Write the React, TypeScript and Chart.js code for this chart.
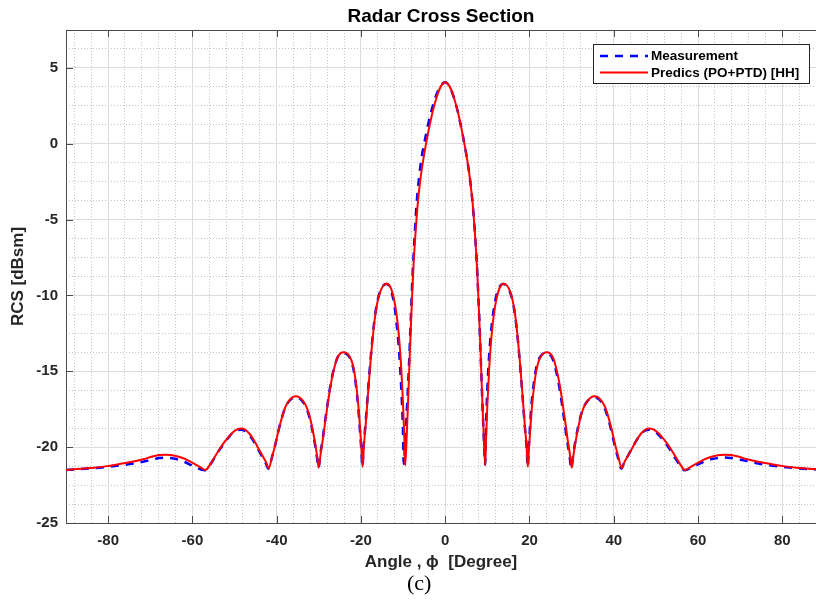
import React, { useEffect, useRef } from "react";
import { Chart, registerables } from "chart.js";

Chart.register(...registerables);

const chartTitle = "Radar Cross Section";
const xTitle = "Angle , \u03D5  [Degree]";
const yTitle = "RCS [dBsm]";
const caption = "(c)";

const xMajorTicks = [-80, -60, -40, -20, 0, 20, 40, 60, 80];
const xMinorTicks = [-88, -84, -76, -72, -68, -64, -56, -52, -48, -44, -36, -32, -28, -24, -16, -12, -8, -4, 4, 8, 12, 16, 24, 28, 32, 36, 44, 48, 52, 56, 64, 68, 72, 76, 84, 88];
const yMajorTicks = [-25, -20, -15, -10, -5, 0, 5];
const yMinorTicks = [-23.75, -22.5, -21.25, -18.75, -17.5, -16.25, -13.75, -12.5, -11.25, -8.75, -7.5, -6.25, -3.75, -2.5, -1.25, 1.25, 2.5, 3.75, 6.25];

const measLabel = "Measurement";
const measAngles = [
  -90, -88, -84, -80.2, -77, -74, -71.5, -69.5, -67.8, -66.2, -64.8, -63.3, -61.8, -60.4, -59.1, -58, -57, -55.9, -54.8, -53.7,
  -52.6, -51.6, -50.6, -49.5, -48.5, -47.5, -46.5, -45.6, -44.6, -43.6, -42.6, -41.95, -41.15, -40.35, -39.65, -38.85, -38.05, -37.15, -36.25, -35.45,
  -34.75, -33.95, -33.05, -32.25, -31.55, -30.95, -30.45, -30.1, -29.55, -29.05, -28.55, -27.95, -27.35, -26.65, -25.65, -24.85, -24.15, -23.55, -22.85, -22.15,
  -21.55, -21.05, -20.65, -20.25, -19.9, -19.65, -19.35, -18.95, -18.35, -17.75, -17.15, -16.55, -15.95, -15.25, -14.55, -13.9, -13.3, -12.75, -12.1, -11.55,
  -11.05, -10.65, -10.25, -10, -9.85, -9.4, -9, -8.6, -8.2, -7.8, -7.3, -6.8, -6.2, -5.6, -5, -4, -3, -2, -1, 0,
  1, 2, 3, 3.4, 4, 5, 5.6, 6, 6.5, 7, 7.5, 7.85, 8.2, 8.5, 8.8, 9.1, 9.5, 9.62, 9.85, 10.2,
  10.6, 11.1, 11.7, 12.4, 13.1, 13.7, 14.45, 15.2, 15.9, 16.5, 17.1, 17.7, 18.3, 18.9, 19.3, 19.6, 19.8, 20.1, 20.45, 20.85,
  21.35, 21.95, 22.65, 23.35, 23.95, 24.65, 25.45, 26.45, 27.15, 27.75, 28.35, 28.85, 29.4, 29.95, 30.3, 30.8, 31.4, 32.1, 32.9, 33.8,
  34.6, 35.3, 36.1, 37, 37.9, 38.7, 39.5, 40.2, 41, 41.8, 42.4, 43.4, 44.4, 45.4, 46.4, 47.4, 48.3, 49.3, 50.4, 51.4,
  52.4, 53.4, 54.5, 55.6, 56.8, 57.9, 59.1, 60.4, 61.9, 63.6, 65.1, 66.5, 67.9, 69.6, 71.6, 74, 77, 80.2, 84, 88,
  90,
];
const measRcs = [
  -21.5, -21.47, -21.4, -21.3, -21.2, -21.08, -20.95, -20.82, -20.72, -20.7, -20.73, -20.82, -20.98, -21.17, -21.35, -21.47, -21.52, -21.2, -20.72, -20.22,
  -19.8, -19.42, -19.1, -18.9, -18.85, -18.93, -19.18, -19.55, -20.05, -20.55, -21.05, -21.42, -20.7, -19.85, -19.0, -18.15, -17.45, -17.0, -16.75, -16.7,
  -16.75, -16.95, -17.35, -18.0, -18.85, -19.75, -20.65, -21.38, -20.3, -19.4, -18.35, -17.2, -16.1, -15.1, -14.15, -13.85, -13.8, -13.83, -14.02, -14.45,
  -15.2, -16.25, -17.35, -18.85, -20.2, -21.3, -19.9, -18.6, -16.4, -14.3, -12.5, -11.1, -10.2, -9.6, -9.3, -9.25, -9.38, -9.75, -10.6, -11.8,
  -13.3, -15.0, -17.2, -19.2, -21.1, -19.2, -17.0, -14.6, -11.8, -9.0, -6.3, -4.0, -2.2, -0.9, 0.0, 1.35, 2.45, 3.3, 3.85, 4.05,
  3.8, 3.1, 2.1, 1.6, 0.8, -0.7, -1.75, -2.6, -3.9, -5.7, -7.9, -10.0, -12.3, -14.6, -16.9, -19.0, -21.15, -19.4, -17.2, -15.0,
  -13.3, -11.8, -10.6, -9.75, -9.35, -9.25, -9.33, -9.65, -10.25, -11.15, -12.55, -14.35, -16.45, -18.65, -19.95, -21.3, -20.2, -18.8, -17.3, -16.2,
  -15.15, -14.4, -14.0, -13.82, -13.8, -13.85, -14.15, -15.15, -16.15, -17.25, -18.4, -19.45, -20.35, -21.38, -20.65, -19.75, -18.85, -18.0, -17.35, -16.95,
  -16.75, -16.7, -16.75, -17.0, -17.45, -18.15, -19.0, -19.85, -20.7, -21.42, -21.05, -20.55, -20.05, -19.55, -19.15, -18.92, -18.85, -18.9, -19.12, -19.42,
  -19.78, -20.18, -20.68, -21.15, -21.52, -21.42, -21.25, -21.08, -20.9, -20.77, -20.7, -20.68, -20.72, -20.8, -20.92, -21.07, -21.2, -21.3, -21.4, -21.47,
  -21.5,
];

const predLabel = "Predics (PO+PTD) [HH]";
const predAngles = [
  -90, -88, -84, -80.2, -77, -74, -71.5, -69.5, -67.8, -66.4, -65.2, -63.7, -62, -60.5, -59.2, -58, -56.9, -55.7, -54.6, -53.5,
  -52.5, -51.5, -50.5, -49.4, -48.4, -47.5, -46.5, -45.5, -44.5, -43.5, -42.5, -41.9, -41.1, -40.3, -39.6, -38.8, -38, -37.1, -36.2, -35.4,
  -34.7, -33.9, -33, -32.2, -31.5, -30.9, -30.4, -30.05, -29.5, -29, -28.5, -27.9, -27.3, -26.6, -25.6, -24.8, -24.1, -23.5, -22.8, -22.1,
  -21.5, -21, -20.6, -20.2, -19.85, -19.6, -19.3, -18.9, -18.3, -17.7, -17.1, -16.5, -15.9, -15.2, -14.5, -13.8, -13.2, -12.6, -11.9, -11.3,
  -10.8, -10.4, -10, -9.7, -9.5, -9.1, -8.8, -8.5, -8.2, -7.85, -7.5, -7, -6.5, -6, -5.6, -5, -4, -3.4, -3, -2,
  -1, 0, 1, 2, 3, 3.4, 4, 5, 5.6, 6, 6.5, 7, 7.5, 7.85, 8.2, 8.5, 8.8, 9.1, 9.5, 9.7,
  10, 10.4, 10.8, 11.3, 11.9, 12.6, 13.2, 13.8, 14.5, 15.2, 15.9, 16.5, 17.1, 17.7, 18.3, 18.9, 19.3, 19.6, 19.85, 20.2,
  20.6, 21, 21.5, 22.1, 22.8, 23.5, 24.1, 24.8, 25.6, 26.6, 27.3, 27.9, 28.5, 29, 29.5, 30.05, 30.4, 30.9, 31.5, 32.2,
  33, 33.9, 34.7, 35.4, 36.2, 37.1, 38, 38.8, 39.6, 40.3, 41.1, 41.9, 42.5, 43.5, 44.5, 45.5, 46.5, 47.5, 48.4, 49.4,
  50.5, 51.5, 52.5, 53.5, 54.6, 55.7, 56.9, 58, 59.2, 60.5, 62, 63.7, 65.2, 66.4, 67.8, 69.5, 71.5, 74, 77, 80.2,
  84, 88, 90,
];
const predRcs = [
  -21.5, -21.45, -21.37, -21.25, -21.1, -20.95, -20.78, -20.62, -20.52, -20.5, -20.52, -20.6, -20.75, -20.95, -21.15, -21.35, -21.5, -21.1, -20.6, -20.1,
  -19.7, -19.35, -19.05, -18.83, -18.77, -18.85, -19.1, -19.5, -20.0, -20.5, -21.0, -21.4, -20.65, -19.8, -18.95, -18.1, -17.4, -16.95, -16.7, -16.65,
  -16.7, -16.9, -17.3, -17.95, -18.8, -19.7, -20.6, -21.35, -20.3, -19.4, -18.35, -17.2, -16.1, -15.1, -14.1, -13.8, -13.75, -13.78, -13.97, -14.4,
  -15.15, -16.2, -17.3, -18.8, -20.2, -21.3, -19.9, -18.6, -16.4, -14.3, -12.5, -11.1, -10.2, -9.6, -9.3, -9.22, -9.35, -9.75, -10.6, -11.8,
  -13.3, -15.0, -17.2, -19.4, -21.2, -19.0, -16.9, -14.6, -12.3, -10.0, -7.9, -5.7, -3.9, -2.6, -1.75, -0.7, 0.8, 1.6, 2.1, 3.1,
  3.8, 4.05, 3.8, 3.1, 2.1, 1.6, 0.8, -0.7, -1.75, -2.6, -3.9, -5.7, -7.9, -10.0, -12.3, -14.6, -16.9, -19.0, -21.2, -19.4,
  -17.2, -15.0, -13.3, -11.8, -10.6, -9.75, -9.35, -9.22, -9.3, -9.6, -10.2, -11.1, -12.5, -14.3, -16.4, -18.6, -19.9, -21.3, -20.2, -18.8,
  -17.3, -16.2, -15.15, -14.4, -13.97, -13.78, -13.75, -13.8, -14.1, -15.1, -16.1, -17.2, -18.35, -19.4, -20.3, -21.35, -20.6, -19.7, -18.8, -17.95,
  -17.3, -16.9, -16.7, -16.65, -16.7, -16.95, -17.4, -18.1, -18.95, -19.8, -20.65, -21.4, -21.0, -20.5, -20.0, -19.5, -19.1, -18.85, -18.77, -18.83,
  -19.05, -19.35, -19.7, -20.1, -20.6, -21.1, -21.5, -21.35, -21.15, -20.95, -20.75, -20.6, -20.52, -20.5, -20.52, -20.62, -20.78, -20.95, -21.1, -21.25,
  -21.37, -21.45, -21.5,
];

const AXIS_COLOR = "#4a4a4a";
const TEXT_COLOR = "#262626";
const FONT = "'Liberation Sans', Arial, Helvetica, sans-serif";

const boxPlugin = {
  id: "matlabBox",
  afterDatasetsDraw(chart: any) {
    const { ctx, chartArea, scales } = chart;
    const { left, right, top, bottom } = chartArea;
    ctx.save();
    ctx.strokeStyle = AXIS_COLOR;
    ctx.lineWidth = 1;
    ctx.beginPath();
    const tick = 7;
    xMajorTicks.forEach((v) => {
      const px = Math.round(scales.x.getPixelForValue(v)) + 0.5;
      ctx.moveTo(px, bottom);
      ctx.lineTo(px, bottom - tick);
      ctx.moveTo(px, top);
      ctx.lineTo(px, top + tick);
    });
    yMajorTicks.forEach((v) => {
      const py = Math.round(scales.y.getPixelForValue(v)) + 0.5;
      ctx.moveTo(left, py);
      ctx.lineTo(left + tick, py);
    });
    ctx.stroke();

    // legend box
    const bx = right - 223;
    const by = top + 14;
    const bw = 216;
    const bh = 39;
    ctx.fillStyle = "#ffffff";
    ctx.fillRect(bx, by, bw, bh);
    ctx.strokeStyle = TEXT_COLOR;
    ctx.lineWidth = 1;
    ctx.strokeRect(bx + 0.5, by + 0.5, bw, bh);
    chart.data.datasets.forEach((ds: any, i: number) => {
      const y = by + 12 + i * 16.6;
      ctx.save();
      ctx.strokeStyle = ds.borderColor;
      ctx.lineWidth = ds.borderWidth;
      ctx.setLineDash(ds.borderDash || []);
      ctx.beginPath();
      ctx.moveTo(bx + 7, y);
      ctx.lineTo(bx + 55, y);
      ctx.stroke();
      ctx.restore();
      ctx.fillStyle = "#000000";
      ctx.font = `bold 13.5px ${FONT}`;
      ctx.textBaseline = "middle";
      ctx.textAlign = "left";
      ctx.fillText(ds.label, bx + 58, y + 0.5);
    });
    ctx.restore();
  },
};

export default function App() {
  const canvasRef = useRef<HTMLCanvasElement | null>(null);

  useEffect(() => {
    const canvas = canvasRef.current;
    if (!canvas) return;
    const chart = new Chart(canvas, {
      type: "line",
      data: {
        datasets: [
          {
            label: measLabel,
            data: measAngles.map((a, i) => ({ x: a, y: measRcs[i] })),
            borderColor: "#0000ff",
            borderWidth: 2.5,
            borderDash: [8, 7],
            pointRadius: 0,
            fill: false,
            cubicInterpolationMode: "monotone",
            order: 1,
          },
          {
            label: predLabel,
            data: predAngles.map((a, i) => ({ x: a, y: predRcs[i] })),
            borderColor: "#ff0000",
            borderWidth: 2,
            pointRadius: 0,
            fill: false,
            cubicInterpolationMode: "monotone",
            order: 0,
          },
        ],
      },
      options: {
        responsive: false,
        animation: false,
        layout: { padding: 0 },
        plugins: {
          legend: { display: false },
          tooltip: { enabled: false },
          title: { display: false },
        },
        scales: {
          xMinor: {
            type: "linear",
            position: "bottom",
            min: -90,
            max: 88,
            afterBuildTicks: (s: any) => {
              s.ticks = xMinorTicks.map((v) => ({ value: v }));
            },
            afterFit: (s: any) => {
              s.height = 0;
            },
            ticks: { display: false },
            grid: { color: "#c4c4c4", lineWidth: 1, drawTicks: false },
            border: { display: false, dash: [1, 2] },
          },
          yMinor: {
            type: "linear",
            position: "left",
            min: -25,
            max: 7.5,
            afterBuildTicks: (s: any) => {
              s.ticks = yMinorTicks.map((v) => ({ value: v }));
            },
            afterFit: (s: any) => {
              s.width = 0;
            },
            ticks: { display: false },
            grid: { color: "#c4c4c4", lineWidth: 1, drawTicks: false },
            border: { display: false, dash: [1, 2] },
          },
          xTop: {
            type: "linear",
            position: "top",
            min: -90,
            max: 88,
            afterFit: (s: any) => {
              s.height = 30;
            },
            ticks: { display: false },
            grid: { drawOnChartArea: false, drawTicks: false },
            border: { display: true, color: AXIS_COLOR, width: 1 },
            title: {
              display: true,
              text: chartTitle,
              color: "#000000",
              font: { family: FONT, size: 19, weight: "bold" },
              padding: { top: 5, bottom: 0 },
            },
          },
          x: {
            type: "linear",
            position: "bottom",
            min: -90,
            max: 88,
            afterBuildTicks: (s: any) => {
              s.ticks = xMajorTicks.map((v) => ({ value: v }));
            },
            afterFit: (s: any) => {
              s.height = 83;
            },
            ticks: {
              color: TEXT_COLOR,
              font: { family: FONT, size: 15, weight: "bold" },
              padding: 9,
              maxRotation: 0,
              autoSkip: false,
            },
            grid: { color: "#dcdcdc", lineWidth: 1, drawTicks: false },
            border: { display: true, color: AXIS_COLOR, width: 1 },
            title: {
              display: true,
              text: xTitle,
              color: TEXT_COLOR,
              font: { family: FONT, size: 17, weight: "bold" },
              padding: { top: 0, bottom: 33 },
            },
          },
          y: {
            type: "linear",
            position: "left",
            min: -25,
            max: 7.5,
            afterBuildTicks: (s: any) => {
              s.ticks = yMajorTicks.map((v) => ({ value: v }));
            },
            afterFit: (s: any) => {
              s.width = 66;
            },
            ticks: {
              color: TEXT_COLOR,
              font: { family: FONT, size: 15, weight: "bold" },
              padding: 8,
            },
            grid: { color: "#dcdcdc", lineWidth: 1, drawTicks: false },
            border: { display: true, color: AXIS_COLOR, width: 1 },
            title: {
              display: true,
              text: yTitle,
              color: TEXT_COLOR,
              font: { family: FONT, size: 17, weight: "bold" },
              padding: { top: 8, bottom: 0 },
            },
          },
        },
      },
      plugins: [boxPlugin],
    } as any);
    return () => chart.destroy();
  }, []);

  return (
    <div style={{ position: "fixed", left: 0, top: 0, width: 816, height: 606, background: "#ffffff" }}>
      <canvas ref={canvasRef} width={816} height={606} style={{ display: "block" }} />
      <div
        style={{
          position: "absolute",
          left: 407,
          top: 572,
          fontFamily: "'Liberation Serif', 'Times New Roman', serif",
          fontSize: 22,
          lineHeight: "22px",
          color: "#000",
        }}
      >
        {caption}
      </div>
    </div>
  );
}
